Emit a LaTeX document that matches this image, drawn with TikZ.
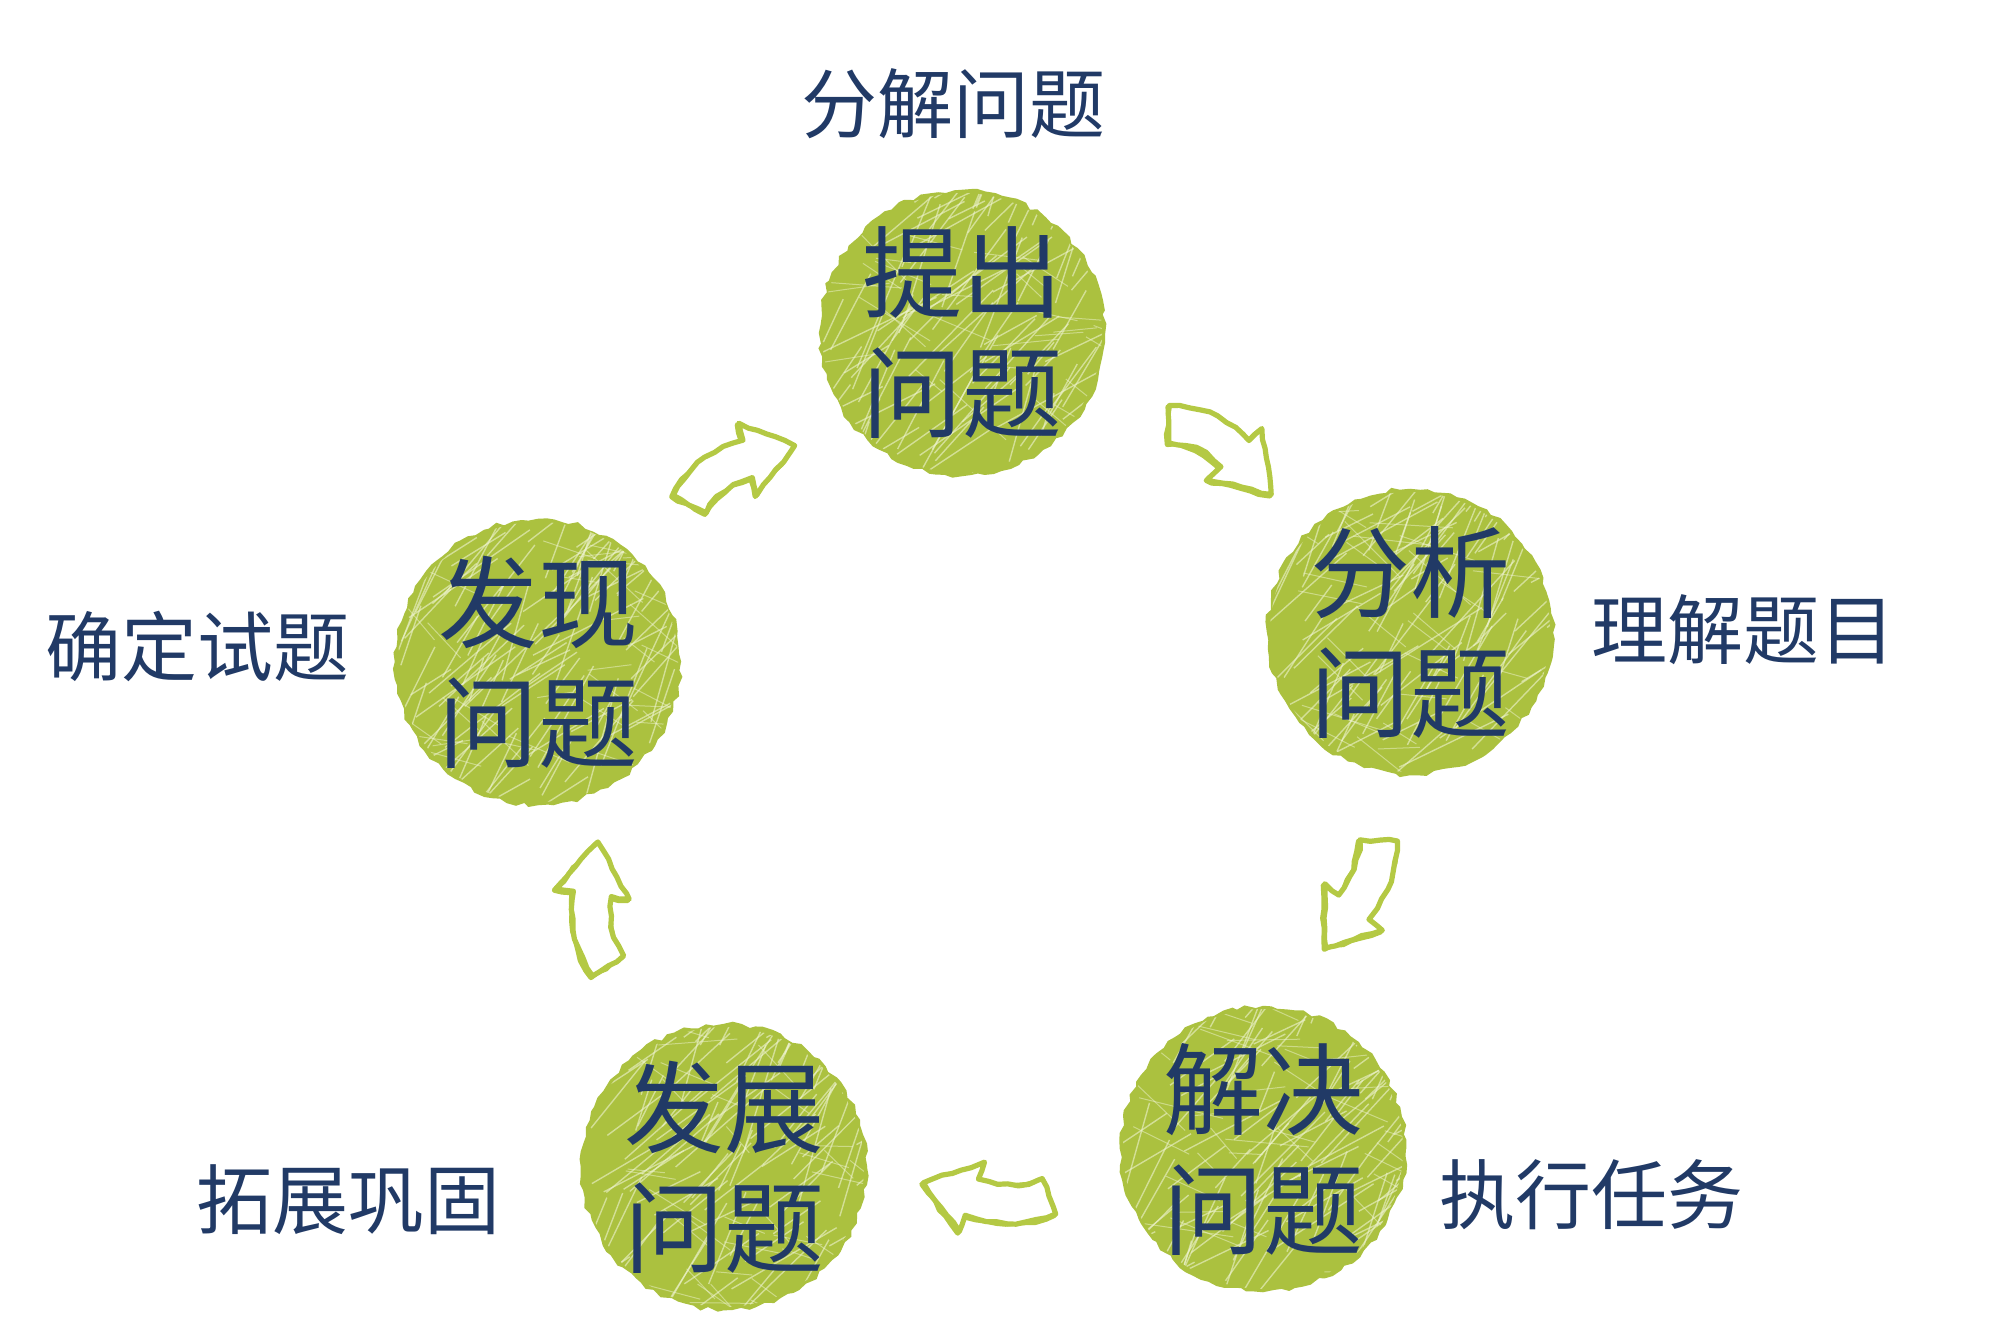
\documentclass[tikz,border=0pt]{standalone}
\usepackage{fontspec}
\setmainfont{Noto Sans CJK SC}
\usetikzlibrary{decorations.pathmorphing}
\definecolor{ballgreen}{HTML}{ABC13F}
\definecolor{streak}{HTML}{EEF3D0}
\definecolor{navy}{HTML}{213A66}
\definecolor{arrgreen}{HTML}{B4C944}
\newcommand\sketcharrow[6]{%
  \begin{scope}[shift={(#1,#2)}]
    \foreach \sd/\ox/\oy in {3/0/0,7/1.5/1.5}{
      \pgfmathsetseed{\sd}
      \draw[arrline, fill=white, xshift=\ox*0.5pt, yshift=\oy*0.5pt]
        (#4:{#3+19}) arc[start angle=#4, end angle=#5, radius={#3+19}]
        -- (#5:{#3+37}) -- (#6:{#3+14}) -- (#5:{#3-37})
        -- (#5:{#3-19}) arc[start angle=#5, end angle=#4, radius={#3-19}] -- cycle;
    }
  \end{scope}}
\tikzset{
  ballfill/.style={fill=ballgreen, decorate, decoration={random steps, segment length=4pt, amplitude=1.2pt}},
  ballnode/.style={circle, minimum size=145pt, inner sep=0pt},
  balltext/.style={align=center, text=navy, font=\fontsize{50}{60}\selectfont, inner sep=0pt},
  lab/.style={text=navy, font=\fontsize{38}{44}\selectfont, inner sep=0pt},
  arrline/.style={draw=arrgreen, line width=2.6pt, line join=round, decorate,
    decoration={random steps, segment length=5pt, amplitude=0.7pt}},
}
\begin{document}
\begin{tikzpicture}[x=0.5pt, y=-0.5pt]
\useasboundingbox (0,0) rectangle (2000,1332);
\pgfmathsetseed{11}
% balls
\foreach \nm/\cx/\cy in {tc/962/333, ac/1410/632, sc/1263/1149, dc/724/1167, fc/538/662}{
  \node[ballnode] (\nm) at (\cx,\cy) {};
  \fill[ballfill] (\nm.center) circle (143);
  \begin{scope}[shift={(\nm.center)}]
    \clip (0,0) circle (140);
    \foreach \i in {1,...,120}{
      \pgfmathsetmacro\xa{rand*150}
      \pgfmathsetmacro\ya{rand*150}
      \pgfmathsetmacro\an{-50+rand*25}
      \pgfmathsetmacro\ln{40+rnd*90}
      \draw[streak, line width=0.7pt, opacity=0.6] (\xa,\ya) -- ++(\an:\ln);
    }
    \foreach \i in {1,...,40}{
      \pgfmathsetmacro\xa{rand*150}
      \pgfmathsetmacro\ya{rand*150}
      \pgfmathsetmacro\an{20+rand*30}
      \pgfmathsetmacro\ln{30+rnd*60}
      \draw[streak, line width=0.5pt, opacity=0.5] (\xa,\ya) -- ++(\an:\ln);
    }
  \end{scope}
}
\node[balltext] (tct) at (tc) {提出\\问题};
\node[balltext] (act) at (ac) {分析\\问题};
\node[balltext] (sct) at (sc) {解决\\问题};
\node[balltext] (dct) at (dc) {发展\\问题};
\node[balltext] (fct) at (fc) {发现\\问题};
% labels
\node[lab] (l1) at (953,104) {分解问题};
\node[lab] (l2) at (1743,630) {理解题目};
\node[lab] (l3) at (1591,1195) {执行任务};
\node[lab] (l4) at (348,1200) {拓展巩固};
\node[lab] (l5) at (197,646) {确定试题};
% arrows
\sketcharrow{768}{548}{90}{208}{256}{284}
\sketcharrow{1166}{518}{92}{271}{317}{348}
\sketcharrow{1265}{838}{112}{2}{39}{62}
\sketcharrow{1008}{1095}{110}{69}{110}{134}
\sketcharrow{695}{910}{105}{147}{188}{214}
\end{tikzpicture}
\end{document}
